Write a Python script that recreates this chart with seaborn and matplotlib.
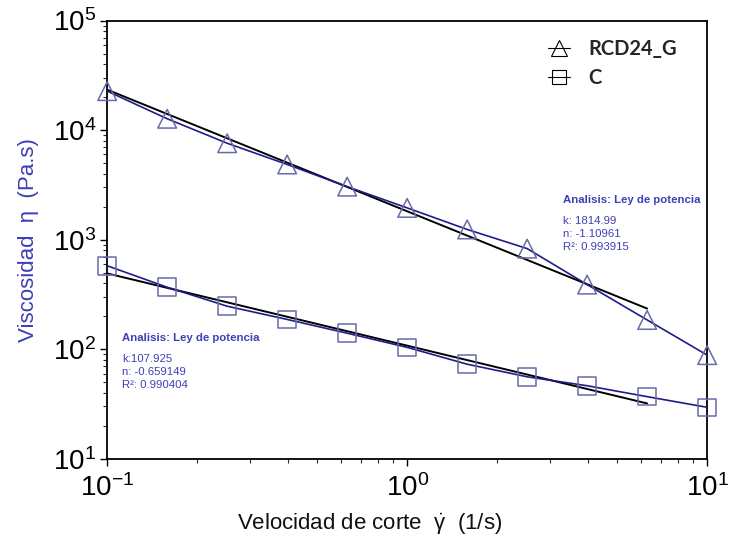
import numpy as np
import pandas as pd
import matplotlib
matplotlib.use("Agg")
import matplotlib.pyplot as plt
import seaborn as sns
from matplotlib.lines import Line2D

# ---- data ----
shear_rate = [0.1, 0.1585, 0.2512, 0.3981, 0.631, 1.0, 1.585, 2.512, 3.981, 6.31, 10.0]
visc_rcd24g = [22700, 12700, 7590, 4860, 3050, 1950, 1240, 829, 389, 185, 88.4]
visc_c = [578, 368, 247, 187, 140, 104, 73, 56, 46.4, 36.9, 29.5]

fit_x = [0.1, 6.31]
fit_rcd24g = [23400, 235]
fit_c = [492, 32.0]

series_names = ["RCD24_G", "C"]
ann_rcd24g = ["Analisis: Ley de potencia", "k: 1814.99", "n: -1.10961", "R\u00b2: 0.993915"]
ann_c = ["Analisis: Ley de potencia", "k:107.925", "n: -0.659149", "R\u00b2: 0.990404"]

# ---- style ----
sns.set_theme(style="white")
plt.rcParams["font.family"] = ["Liberation Sans", "DejaVu Sans"]
plt.rcParams["mathtext.fontset"] = "custom"
plt.rcParams["mathtext.rm"] = "Liberation Sans"
plt.rcParams["mathtext.it"] = "Liberation Sans:italic"

line_col = "#1c1c8c"
mark_col = "#6a6aa8"
text_blue = "#3f3fb5"

fig = plt.figure(figsize=(7.29, 5.41), dpi=100)
ax = fig.add_axes([0.147, 0.152, 0.823, 0.810])

df_a = pd.DataFrame({"x": shear_rate, "y": visc_rcd24g})
df_b = pd.DataFrame({"x": shear_rate, "y": visc_c})
df_fa = pd.DataFrame({"x": fit_x, "y": fit_rcd24g})
df_fb = pd.DataFrame({"x": fit_x, "y": fit_c})

sns.lineplot(data=df_fa, x="x", y="y", ax=ax, color="black", lw=1.4, zorder=2)
sns.lineplot(data=df_fb, x="x", y="y", ax=ax, color="black", lw=1.4, zorder=2)
sns.lineplot(data=df_a, x="x", y="y", ax=ax, color=line_col, lw=1.2, zorder=3)
sns.lineplot(data=df_b, x="x", y="y", ax=ax, color=line_col, lw=1.2, zorder=3)
sns.scatterplot(data=df_a, x="x", y="y", ax=ax, marker="^", s=180,
                facecolor="none", edgecolor=mark_col, linewidth=1.1, zorder=4, clip_on=False)
sns.scatterplot(data=df_b, x="x", y="y", ax=ax, marker="s", s=160,
                facecolor="none", edgecolor=mark_col, linewidth=1.1, zorder=4, clip_on=False)

ax.set_xscale("log")
ax.set_yscale("log")
ax.set_xlim(0.1, 10)
ax.set_ylim(10, 1e5)

for s in ax.spines.values():
    s.set_color("black")
    s.set_linewidth(1.3)
    s.set_visible(True)

ax.tick_params(axis="both", which="major", direction="out", length=5, width=1,
               labelsize=20, colors="black", left=True, bottom=True, pad=3)
ax.tick_params(axis="both", which="minor", direction="out", length=3, width=0.8,
               left=True, bottom=True)
ax.tick_params(axis="x", which="major", pad=6)

ax.set_xlabel("Velocidad de corte  $\\dot{\\mathrm{\\gamma}}$  (1/s)", fontsize=16, labelpad=7,
              color="#111111")
ax.xaxis.label.set_x(0.437)
ax.set_ylabel("Viscosidad  \u03b7  (Pa.s)", fontsize=16, labelpad=10, color=text_blue)

# legend
handles = [
    Line2D([0], [0], color="black", lw=0.8, marker="^", markersize=11,
           markerfacecolor="none", markeredgecolor="black", markeredgewidth=0.8),
    Line2D([0], [0], color="black", lw=0.8, marker="s", markersize=10,
           markerfacecolor="none", markeredgecolor="black", markeredgewidth=0.8),
]
leg = ax.legend(handles, series_names, loc="upper right", bbox_to_anchor=(0.98, 1.0),
                frameon=False, handlelength=1.1, handletextpad=0.9, labelspacing=0.45,
                prop={"family": ["Lato", "DejaVu Sans"], "weight": "bold", "size": 14.5})

# annotations
def annot(x, y, lines):
    ax.text(x, y, lines[0], transform=ax.transAxes, fontsize=8.2, fontweight="bold",
            color=text_blue, va="center", ha="left")
    for i, t in enumerate(lines[1:]):
        ax.text(x, y - 0.048 - i * 0.030, t, transform=ax.transAxes, fontsize=8.2,
                color=text_blue, va="center", ha="left")

annot(0.760, 0.591, ann_rcd24g)
annot(0.025, 0.276, ann_c)

fig.savefig("out.png", dpi=100)
